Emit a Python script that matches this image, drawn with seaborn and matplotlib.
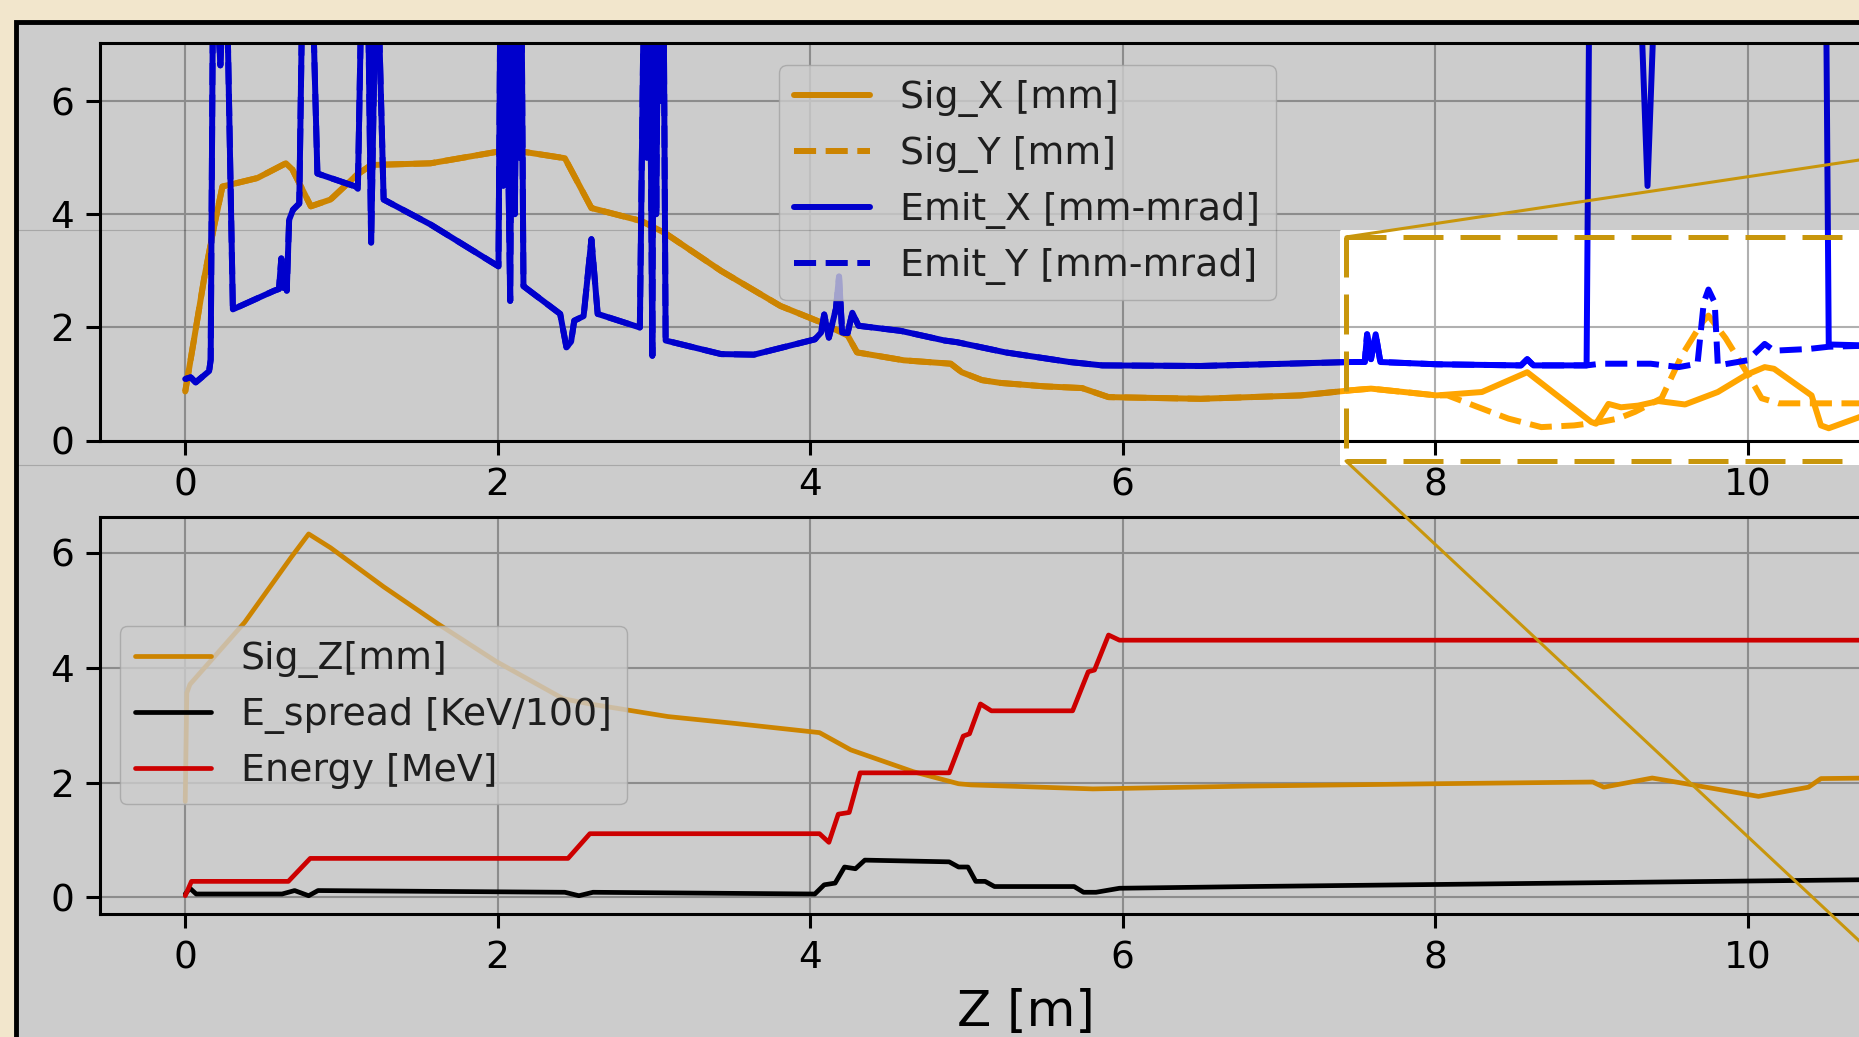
import matplotlib
matplotlib.use("Agg")
import matplotlib.pyplot as plt
from matplotlib.patches import Rectangle
from matplotlib.lines import Line2D
import seaborn as sns

sns.set_theme(style="ticks")

W, H = 1859, 1037

# ---- top panel: beam sizes and emittances ----
# Sig_X and Sig_Y are the same up to ~8 m
sig_z = [0, 0.057, 0.12, 0.185, 0.238, 0.462, 0.644, 0.686, 0.804, 0.93, 1.10, 1.19, 1.57,
         2.01, 2.15, 2.43, 2.60, 2.92, 3.07, 3.43, 3.81, 4.07, 4.24, 4.30, 4.60, 4.90, 4.97,
         5.10, 5.22, 5.50, 5.74, 5.91, 6.50, 7.14, 7.46, 7.59, 8.01]
sig = [0.87, 1.80, 2.85, 3.79, 4.49, 4.64, 4.90, 4.79, 4.14, 4.26, 4.70, 4.87, 4.90,
       5.11, 5.11, 4.99, 4.11, 3.88, 3.67, 3.00, 2.38, 2.09, 1.86, 1.56, 1.42, 1.36, 1.21,
       1.07, 1.02, 0.96, 0.93, 0.77, 0.74, 0.80, 0.89, 0.92, 0.80]
sig_x_tail_z = [8.30, 8.59, 9.00, 9.03, 9.11, 9.19, 9.30, 9.43, 9.60, 9.81, 9.99, 10.11, 10.17,
                10.41, 10.47, 10.52, 10.80]
sig_x_tail = [0.86, 1.21, 0.33, 0.30, 0.65, 0.59, 0.62, 0.70, 0.64, 0.86, 1.16, 1.30, 1.27,
              0.80, 0.27, 0.22, 0.50]
sig_y_tail_z = [8.08, 8.25, 8.47, 8.68, 8.89, 9.06, 9.17, 9.28, 9.45, 9.58, 9.71, 9.75, 9.86,
                9.99, 10.09, 10.20, 10.80]
sig_y_tail = [0.80, 0.62, 0.39, 0.24, 0.27, 0.33, 0.39, 0.51, 0.75, 1.51, 2.09, 2.21, 1.81,
              1.23, 0.75, 0.66, 0.66]

# Emit_X and Emit_Y are the same up to ~9 m (9 = off the top of the axes)
emit_z = [0, 0.035, 0.067, 0.153, 0.163, 0.18, 0.225, 0.26, 0.305, 0.57, 0.60, 0.615, 0.63,
          0.64, 0.65, 0.665, 0.69, 0.73, 0.755, 0.805, 0.846, 1.09, 1.105, 1.135, 1.165, 1.19,
          1.225, 1.27, 1.57, 2.005, 2.02, 2.035, 2.05, 2.065, 2.08, 2.095, 2.11, 2.125, 2.14,
          2.15, 2.165, 2.40, 2.44, 2.47, 2.49, 2.55, 2.60, 2.64, 2.91, 2.94, 2.955, 2.97, 2.99,
          3.00, 3.015, 3.03, 3.05, 3.06, 3.075, 3.43, 3.64, 4.03, 4.07, 4.09, 4.12, 4.165,
          4.185, 4.205, 4.24, 4.27, 4.31, 4.58, 4.86, 4.94, 5.25, 5.66, 5.87, 6.50, 7.46, 7.55,
          7.565, 7.59, 7.62, 7.65, 8.01, 8.55, 8.59, 8.63, 8.97]
emit = [1.09, 1.12, 1.03, 1.23, 1.43, 9, 6.63, 9, 2.32, 2.65, 2.68, 3.22, 2.70,
        3.00, 2.65, 3.90, 4.08, 4.19, 9, 9, 4.72, 4.49, 4.45, 9, 9, 3.50,
        9, 4.26, 3.82, 3.08, 9, 4.5, 9, 5.5, 2.47, 9, 4.0, 9, 5.0,
        9, 2.73, 2.24, 1.65, 1.75, 2.12, 2.20, 3.56, 2.24, 2.00, 9, 5.0, 9, 1.50,
        9, 4.0, 9, 6.0, 9, 1.77, 1.53, 1.52, 1.79, 1.91, 2.23, 1.82, 2.33,
        2.90, 1.91, 1.90, 2.26, 2.03, 1.94, 1.77, 1.74, 1.56, 1.39, 1.33, 1.32, 1.39, 1.39,
        1.88, 1.44, 1.88, 1.39, 1.35, 1.33, 1.44, 1.33, 1.33]
emit_x_tail_z = [8.99, 9.30, 9.36, 9.42, 10.50, 10.52, 10.80]
emit_x_tail = [9, 9, 4.5, 9, 9, 1.70, 1.68]
emit_y_tail_z = [9.06, 9.38, 9.56, 9.68, 9.72, 9.75, 9.79, 9.81, 10.00, 10.11, 10.17, 10.39,
                 10.52, 10.80]
emit_y_tail = [1.36, 1.36, 1.30, 1.36, 2.44, 2.67, 2.44, 1.33, 1.42, 1.71, 1.59, 1.62,
               1.66, 1.68]

# ---- bottom panel: bunch length, energy spread, energy ----
sigz_z = [0, 0.01, 0.03, 0.38, 0.68, 0.79, 0.93, 1.27, 1.62, 1.99, 2.42, 2.59, 3.09, 3.52,
          4.06, 4.26, 4.66, 4.95, 5.03, 5.81, 6.82, 8.00, 9.01, 9.08, 9.39, 9.65, 10.07,
          10.39, 10.47, 10.80]
sigz = [1.67, 3.56, 3.71, 4.79, 5.93, 6.33, 6.09, 5.41, 4.76, 4.11, 3.46, 3.37, 3.15, 3.03,
        2.87, 2.57, 2.19, 1.98, 1.96, 1.89, 1.94, 1.98, 2.01, 1.92, 2.08, 1.96, 1.76,
        1.92, 2.07, 2.08]
espread_z = [0, 0.03, 0.07, 0.62, 0.70, 0.79, 0.85, 2.43, 2.52, 2.61, 4.03, 4.09, 4.16, 4.22,
             4.29, 4.35, 4.89, 4.95, 5.01, 5.06, 5.12, 5.18, 5.69, 5.75, 5.83, 5.98, 6.82,
             10.80]
espread = [0.06, 0.16, 0.06, 0.06, 0.12, 0.03, 0.12, 0.09, 0.03, 0.09, 0.06, 0.22, 0.25, 0.53,
           0.50, 0.65, 0.62, 0.53, 0.53, 0.28, 0.28, 0.19, 0.19, 0.09, 0.09, 0.16, 0.19,
           0.31]
energy_z = [0, 0.04, 0.66, 0.80, 2.45, 2.59, 4.06, 4.12, 4.18, 4.25, 4.32, 4.89, 4.98, 5.02,
            5.09, 5.16, 5.68, 5.78, 5.82, 5.91, 5.98, 10.80]
energy = [0.03, 0.28, 0.28, 0.68, 0.68, 1.11, 1.11, 0.96, 1.45, 1.48, 2.17, 2.17, 2.81, 2.85,
          3.37, 3.25, 3.25, 3.93, 3.96, 4.57, 4.48, 4.48]

xticks = [0, 2, 4, 6, 8, 10]
yticks = [0, 2, 4, 6]

GOLD = "#c8960c"


def fx(px):
    return px / W


def fy(py):
    return 1 - py / H


fig = plt.figure(figsize=(W / 100, H / 100), dpi=100, facecolor="#f2e6cc")

# white page with black frame behind the plots
fig.add_artist(Rectangle((fx(16), fy(1100)), fx(1950) - fx(16), fy(22) - fy(1100),
                         transform=fig.transFigure, facecolor="white",
                         edgecolor="black", lw=3.5, zorder=-5))

ax1 = fig.add_axes([fx(100.4), fy(440.7), (1950.6 - 100.4) / W, (440.7 - 43.3) / H])
ax2 = fig.add_axes([fx(100.4), fy(914.1), (1950.6 - 100.4) / W, (914.1 - 517.3) / H])


def draw(ax, z, v, color, ls, label, lw):
    sns.lineplot(x=z, y=v, ax=ax, color=color, linestyle=ls, linewidth=lw, label=label,
                 sort=False, estimator=None)
    ax.lines[-1].set_linewidth(lw)


lw_top = 4.3
draw(ax1, sig_z + sig_x_tail_z, sig + sig_x_tail, "orange", "-", "Sig_X [mm]", lw_top)
draw(ax1, sig_z + sig_y_tail_z, sig + sig_y_tail, "orange", "--", "Sig_Y [mm]", lw_top)
draw(ax1, emit_z + emit_x_tail_z, emit + emit_x_tail, "blue", "-", "Emit_X [mm-mrad]", lw_top)
draw(ax1, emit_z + emit_y_tail_z, emit + emit_y_tail, "blue", "--", "Emit_Y [mm-mrad]", lw_top)

lw_bot = 3.4
draw(ax2, sigz_z, sigz, "orange", "-", "Sig_Z[mm]", lw_bot)
draw(ax2, espread_z, espread, "black", "-", "E_spread [KeV/100]", lw_bot)
draw(ax2, energy_z, energy, "red", "-", "Energy [MeV]", lw_bot)

ax1.set_ylim(0, 7.02)
ax2.set_ylim(-0.29, 6.62)
for ax in (ax1, ax2):
    ax.set_facecolor("white")
    ax.set_xlim(-0.543, 11.30)
    ax.set_xticks(xticks)
    ax.set_yticks(yticks)
    ax.set_xlabel("")
    ax.set_ylabel("")
    ax.set_axisbelow(True)
    ax.grid(True, color="#b0b0b0", lw=1.5)
    ax.tick_params(labelsize=27, length=10, width=2.2, pad=9, color="black",
                   labelcolor="black", direction="out")
    for s in ax.spines.values():
        s.set_color("black")
        s.set_linewidth(2.2)
        s.set_visible(True)

ax1.legend(loc="upper left", bbox_to_anchor=(0.3668, 0.945), borderaxespad=0,
           fontsize=27.3, frameon=True, framealpha=0.8, facecolor="white",
           edgecolor="0.8", fancybox=True)
ax2.legend(loc="upper left", bbox_to_anchor=(0.0104, 0.726), borderaxespad=0,
           fontsize=27.3, frameon=True, framealpha=0.8, facecolor="white",
           edgecolor="0.8", fancybox=True)

fig.text(fx(1025.5), fy(1026), "Z [m]", fontsize=36, ha="center", va="baseline",
         color="black")

# grey veil over everything except the zoomed window
veil = dict(transform=fig.transFigure, facecolor="black", edgecolor="none",
            alpha=0.2, zorder=5, antialiased=False)
for x0, y0, x1, y1 in [(16, 22, 1950, 230), (16, 230, 1340, 465), (16, 465, 1950, 1100)]:
    fig.add_artist(Rectangle((fx(x0), fy(y1)), fx(x1) - fx(x0), fy(y0) - fy(y1), **veil))
for yy in (230, 465):
    fig.add_artist(Line2D([fx(16), fx(1340)], [fy(yy), fy(yy)], transform=fig.transFigure,
                          color="black", alpha=0.18, lw=0.8, zorder=6))

# dashed zoom box and its connector lines
box = dict(transform=fig.transFigure, color=GOLD, lw=3.6, linestyle=(0, (8, 3.4)),
           zorder=8, solid_capstyle="butt", dash_capstyle="butt")
fig.add_artist(Line2D([fx(1346), fx(1950)], [fy(237), fy(237)], **box))
fig.add_artist(Line2D([fx(1346), fx(1346)], [fy(237), fy(461)], **box))
fig.add_artist(Line2D([fx(1346), fx(1950)], [fy(461), fy(461)], **box))
fig.add_artist(Line2D([fx(1346), fx(1950)], [fy(237), fy(237 - 0.150 * 604)],
                      transform=fig.transFigure, color=GOLD, lw=2.2, zorder=8))
fig.add_artist(Line2D([fx(1346), fx(1950)], [fy(461), fy(461 + 0.935 * 604)],
                      transform=fig.transFigure, color=GOLD, lw=2.2, zorder=8))

fig.savefig("out.png", dpi=100, facecolor=fig.get_facecolor())
